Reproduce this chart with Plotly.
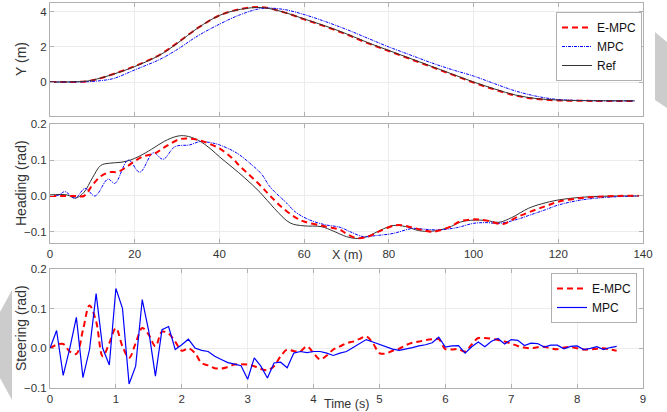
import numpy as np
import plotly.graph_objects as go

# ---------------- Data ----------------
# Top panel: Y (m) vs X (m)
x_top = [0, 5, 9, 12, 15, 20, 26, 30, 35, 40, 45, 50, 55, 60, 65, 70, 75, 80, 85, 90,
         95, 100, 105, 110, 115, 120, 125, 130, 138]
y_ref = [0, 0.01, 0.06, 0.23, 0.45, 0.88, 1.55, 2.2, 3.1, 3.8, 4.15, 4.25, 4.0, 3.6, 3.2,
         2.75, 2.25, 1.8, 1.35, 0.9, 0.45, 0.0, -0.4, -0.75, -0.95, -1.03, -1.06, -1.07, -1.07]
y_empc = [0, 0.0, 0.05, 0.22, 0.46, 0.9, 1.57, 2.22, 3.1, 3.8, 4.17, 4.27, 4.0, 3.58, 3.17,
          2.72, 2.22, 1.77, 1.32, 0.87, 0.42, -0.03, -0.43, -0.78, -0.97, -1.05, -1.07, -1.08, -1.08]
y_mpc = [0, 0.0, 0.02, 0.08, 0.2, 0.69, 1.3, 1.85, 2.65, 3.3, 3.85, 4.2, 4.15, 3.85, 3.45,
         3.0, 2.5, 2.0, 1.55, 1.1, 0.7, 0.34, -0.1, -0.52, -0.82, -1.0, -1.05, -1.07, -1.08]

# Middle panel: Heading (rad) vs X (m)
hx_ref = [0, 4, 6, 8, 10, 12, 14, 17, 19, 21, 24, 27, 30, 32, 35, 38, 40, 43, 46, 49.6, 53,
          56.7, 60, 64, 67, 70, 72.5, 75, 78, 81, 84, 87, 90, 94, 97, 100, 103, 106, 109, 113,
          116, 120, 125, 130, 135, 139]
h_ref = [0.003, 0.003, -0.006, 0.01, 0.05, 0.085, 0.091, 0.094, 0.1, 0.11, 0.13, 0.152, 0.166,
         0.167, 0.155, 0.13, 0.109, 0.08, 0.05, 0.01, -0.035, -0.075, -0.083, -0.085, -0.098,
         -0.113, -0.118, -0.112, -0.095, -0.082, -0.085, -0.096, -0.098, -0.088, -0.072, -0.067,
         -0.068, -0.073, -0.06, -0.034, -0.022, -0.011, -0.004, -0.001, 0.0, 0.0]
hx_empc = [0, 6, 8, 10, 12, 14, 16, 18, 20, 22, 24.7, 27, 30.7, 34, 37, 40, 43, 45, 49.6, 52,
           55, 58, 60, 64, 68.5, 70, 72.4, 75, 78, 81.8, 85, 88, 90.5, 94, 97, 100, 103, 107,
           110, 113.3, 117, 120, 125, 129, 134, 139]
h_empc = [0, 0.0, 0.0, 0.03, 0.055, 0.066, 0.067, 0.08, 0.097, 0.11, 0.118, 0.135, 0.158, 0.158,
          0.148, 0.132, 0.105, 0.081, 0.03, 0.0, -0.034, -0.06, -0.071, -0.082, -0.094, -0.105,
          -0.117, -0.113, -0.097, -0.081, -0.086, -0.095, -0.099, -0.088, -0.07, -0.065, -0.068,
          -0.078, -0.06, -0.044, -0.028, -0.016, -0.006, -0.002, 0.0, 0.001]
hx_mpc = [0, 2, 3.5, 5.9, 8.3, 10.6, 13.7, 15.3, 18.5, 21.2, 24.4, 26.7, 29.5, 33, 35.4, 38, 40,
          44, 47.2, 50, 51.9, 55.9, 58, 61.4, 65, 68.5, 71, 74, 77, 81, 85.6, 88, 91.9, 96, 100,
          103, 106, 110, 113.3, 117, 120, 125, 129, 134, 139]
h_mpc = [0, 0.002, 0.012, -0.006, 0.021, 0.0, 0.047, 0.035, 0.1, 0.066, 0.12, 0.102, 0.137, 0.142,
         0.151, 0.148, 0.142, 0.12, 0.091, 0.06, 0.026, -0.02, -0.045, -0.067, -0.08, -0.087, -0.1,
         -0.113, -0.11, -0.104, -0.09, -0.092, -0.094, -0.088, -0.076, -0.074, -0.076, -0.066,
         -0.053, -0.038, -0.025, -0.012, -0.006, -0.002, 0.0]

# Bottom panel: Steering (rad) vs Time (s), sampled every 0.1 s from 0 to 8.6 s
t_steer = np.round(np.arange(0, 87) * 0.1, 1)
s_mpc = [0, 0.045, -0.068, 0.0, 0.078, -0.074, -0.003, 0.138, 0.0, -0.042,
         0.151, 0.101, -0.09, -0.045, 0.123, 0.042, -0.07, 0.047, 0.055, -0.003,
         0.009, 0.023, 0.001, -0.005, -0.008, -0.02, -0.028, -0.036, -0.04, -0.044,
         -0.078, -0.024, -0.045, -0.075, -0.037, -0.035, -0.049, -0.012, -0.008, -0.011,
         -0.008, -0.008, -0.012, -0.018, -0.012, -0.008, 0.002, 0.012, 0.022, 0.016,
         0.010, 0.004, -0.002, -0.005, -0.002, 0.002, 0.006, 0.009, 0.014, 0.028,
         0.003, 0.006, 0.007, -0.012, 0.004, 0.016, 0.004, 0.018, 0.025, 0.011,
         0.022, 0.020, 0.007, 0.013, 0.012, 0.003, 0.008, 0.008, -0.001, 0.005,
         0.006, -0.003, 0.0, 0.004, -0.003, 0.002, 0.005]
s_empc = [0, 0.009, 0.011, -0.008, -0.014, 0.046, 0.108, 0.068, -0.02, 0.013,
          0.051, 0.005, -0.024, 0.013, 0.051, 0.034, 0.005, 0.042, 0.037, 0.017,
          -0.006, 0.0, -0.012, -0.037, -0.043, -0.05, -0.051, -0.047, -0.041, -0.04,
          -0.041, -0.045, -0.052, -0.055, -0.045, -0.02, -0.003, -0.007, -0.007, 0.005,
          -0.012, -0.028, -0.018, -0.003, 0.005, 0.013, 0.017, 0.024, 0.03, 0.013,
          -0.012, -0.013, -0.006, -0.001, 0.008, 0.014, 0.017, 0.021, 0.023, 0.023,
          -0.002, -0.003, -0.002, -0.008, 0.01, 0.026, 0.026, 0.024, 0.021, 0.017,
          0.012, 0.006, 0.002, 0.0, 0.003, 0.004, 0.0, -0.002, 0.002, 0.003,
          0.0, -0.003, -0.003, -0.001, 0.0, -0.003, -0.006]

x_ticks = [0, 20, 40, 60, 80, 100, 120, 140]
t_ticks = [0, 1, 2, 3, 4, 5, 6, 7, 8, 9]

# ---------------- Figure ----------------
W, H = 667, 412
ML, MR, MT, MB = 50, 24, 3, 24
PW, PH = W - ML - MR, H - MT - MB

def px(x):
    return (x - ML) / PW
def py(y):
    return 1 - (y - MT) / PH

RED = "#ff0000"
BLUE = "#0000ff"
BLACK = "#333333"
FONT = "Liberation Sans, Arial, sans-serif"

fig = go.Figure()

# top
fig.add_trace(go.Scatter(x=x_top, y=y_empc, name="E-MPC", mode="lines", line_shape="spline",
                         line=dict(color=RED, width=2, dash="6px,4px"), xaxis="x", yaxis="y", legend="legend"))
fig.add_trace(go.Scatter(x=x_top, y=y_mpc, name="MPC", mode="lines", line_shape="spline",
                         line=dict(color=BLUE, width=1, dash="3px,1px,1px,1px"), xaxis="x", yaxis="y", legend="legend"))
fig.add_trace(go.Scatter(x=x_top, y=y_ref, name="Ref", mode="lines", line_shape="spline",
                         line=dict(color=BLACK, width=1), xaxis="x", yaxis="y", legend="legend"))
# middle
fig.add_trace(go.Scatter(x=hx_ref, y=h_ref, name="Ref", mode="lines", line_shape="spline",
                         line=dict(color=BLACK, width=1), xaxis="x2", yaxis="y2", showlegend=False))
fig.add_trace(go.Scatter(x=hx_mpc, y=h_mpc, name="MPC", mode="lines", line_shape="spline",
                         line=dict(color=BLUE, width=1, dash="3px,1px,1px,1px"), xaxis="x2", yaxis="y2", showlegend=False))
fig.add_trace(go.Scatter(x=hx_empc, y=h_empc, name="E-MPC", mode="lines", line_shape="spline",
                         line=dict(color=RED, width=2, dash="6px,4px"), xaxis="x2", yaxis="y2", showlegend=False))
# bottom
fig.add_trace(go.Scatter(x=t_steer, y=s_empc, name="E-MPC", mode="lines", line_shape="spline",
                         line=dict(color=RED, width=2, dash="6px,4px"), xaxis="x3", yaxis="y3", legend="legend2"))
fig.add_trace(go.Scatter(x=t_steer, y=s_mpc, name="MPC", mode="lines",
                         line=dict(color=BLUE, width=1.2), xaxis="x3", yaxis="y3", legend="legend2"))

xdom = [0, 1]
axis_common = dict(showline=True, linecolor="#b0b0b0", linewidth=1, mirror="ticks",
                   ticks="inside", ticklen=4, tickcolor="#b0b0b0", automargin=False,
                   showgrid=True, gridcolor="#ececec", gridwidth=1, zeroline=False,
                   tickfont=dict(family=FONT, size=11.5, color="#333333"))

fig.update_layout(
    template="none",
    width=W, height=H, margin=dict(l=ML, r=MR, t=MT, b=MB, autoexpand=False),
    paper_bgcolor="white", plot_bgcolor="white",
    font=dict(family=FONT, size=12, color="#222222"),
    xaxis=dict(domain=xdom, range=[0, 140], tickvals=x_ticks, showticklabels=False,
               anchor="y", **axis_common),
    yaxis=dict(domain=[py(116), py(3)], range=[-1.94, 4.51], tickvals=[0, 2, 4],
               anchor="x", **axis_common),
    xaxis2=dict(domain=xdom, range=[0, 140], tickvals=x_ticks, anchor="y2", **axis_common),
    yaxis2=dict(domain=[py(243), py(124)], range=[-0.1306, 0.2], tickvals=[-0.1, 0, 0.1, 0.2],
                tickformat=".1f", anchor="x2", **axis_common),
    xaxis3=dict(domain=xdom, range=[0, 9], tickvals=t_ticks, anchor="y3", **axis_common),
    yaxis3=dict(domain=[py(388), py(269)], range=[-0.1, 0.2], tickvals=[-0.1, 0, 0.1, 0.2],
                tickformat=".1f", anchor="x3", **axis_common),
    legend=dict(x=px(642), y=py(12), xanchor="right", yanchor="top",
                bordercolor="#b0b0b0", borderwidth=1, bgcolor="white",
                font=dict(family=FONT, size=12, color="#111111"),
                itemwidth=30, tracegroupgap=0),
    legend2=dict(x=px(637), y=py(273), xanchor="right", yanchor="top",
                 bordercolor="#b0b0b0", borderwidth=1, bgcolor="white",
                 font=dict(family=FONT, size=12, color="#111111"),
                 itemwidth=30, tracegroupgap=0),
)

# axis titles as annotations
for text, yc in [("Y (m)", 59), ("Heading (rad)", 183), ("Steering (rad)", 328)]:
    fig.add_annotation(x=px(21), y=py(yc), xref="paper", yref="paper", text=text,
                       textangle=-90, showarrow=False,
                       font=dict(family=FONT, size=14, color="#333333"),
                       xanchor="center", yanchor="middle")
fig.add_annotation(x=px(347), y=py(255), xref="paper", yref="paper", text="X (m)",
                   showarrow=False, font=dict(family=FONT, size=12.5, color="#333333"),
                   xanchor="center", yanchor="middle")
fig.add_annotation(x=px(346), y=py(404), xref="paper", yref="paper", text="Time (s)",
                   showarrow=False, font=dict(family=FONT, size=12.5, color="#333333"),
                   xanchor="center", yanchor="middle")

# decorative grey page tabs at the edges
def path(points):
    return "M " + " L ".join(f"{px(a):.4f},{py(b):.4f}" for a, b in points) + " Z"
fig.add_shape(type="path", xref="paper", yref="paper",
              path=path([(655, 32), (667, 42), (667, 108), (655, 100)]),
              fillcolor="#cccccc", line=dict(width=0), layer="below")
fig.add_shape(type="path", xref="paper", yref="paper",
              path=path([(12, 290), (0, 312), (0, 378), (12, 400)]),
              fillcolor="#cccccc", line=dict(width=0), layer="below")

fig.write_html("out.html", config={"displayModeBar": False},
               post_script="document.body.style.margin='0';document.body.style.overflow='hidden';")
